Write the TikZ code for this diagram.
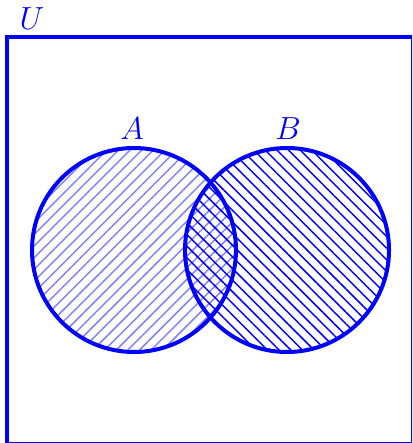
\documentclass[tikz,border=0pt]{standalone}
\usetikzlibrary{patterns.meta}
\begin{document}
\begin{tikzpicture}[x=0.45pt,y=-0.45pt,
  edge/.style={draw=blue, line width=1.8pt},
  lab/.style={text=blue, font=\Large, inner sep=0pt}]
\useasboundingbox (0,0) rectangle (412,443);
\clip (0,0) rectangle (412,443);
\coordinate (ca) at (134,250);
\coordinate (cb) at (287,250);
\path[pattern={Lines[angle=45,distance=3.7pt,line width=0.65pt]}, pattern color=blue!50] (ca) circle[radius=102];
\path[pattern={Lines[angle=-45,distance=3.7pt,line width=0.65pt]}, pattern color=blue] (cb) circle[radius=102];
\draw[edge] (7,37) rectangle (413,444);
\draw[edge] (ca) circle[radius=102];
\draw[edge] (cb) circle[radius=102];
\node[lab] (lU) at (32,19) {$U$};
\node[lab] (lA) at (132,129) {$A$};
\node[lab] (lB) at (288,129) {$B$};
\end{tikzpicture}
\end{document}
